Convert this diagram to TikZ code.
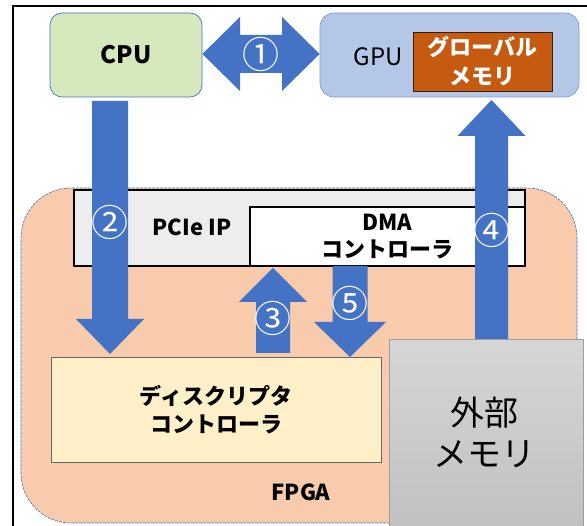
\documentclass[tikz,border=0pt]{standalone}
\usepackage{fontspec}
\setmainfont{Noto Sans CJK JP}
\definecolor{arrowblue}{RGB}{68,114,196}
\definecolor{cpugreen}{RGB}{213,233,189}
\definecolor{gpublue}{RGB}{180,199,231}
\definecolor{gmemorange}{RGB}{197,90,17}
\definecolor{fpgapeach}{RGB}{248,203,173}
\definecolor{pciegray}{RGB}{237,237,237}
\definecolor{descyellow}{RGB}{255,240,202}
\newcommand\fsz[2]{\fontsize{#1}{#2}\selectfont}
\newcommand\vblock[6]{%
  \fill[arrowblue] (#1-#5,#2) -- (#1-#5,#3) -- (#1-#6,#3) -- (#1,#4) -- (#1+#6,#3) -- (#1+#5,#3) -- (#1+#5,#2) -- cycle;}
\tikzset{
  box/.style={rectangle, inner sep=0pt, align=center},
  lbl/.style={inner sep=0pt, align=center, font=\bfseries\fsz{22}{28}},
  num/.style={inner sep=0pt, text=white, font=\fsz{37}{37}},
}
\begin{document}
\begin{tikzpicture}[x=1pt,y=-1pt]
\useasboundingbox (0,0) rectangle (587,526);
\fill[white] (0,0) rectangle (587,526);
% outer frame
\draw[line width=1.3pt] (13,526) -- (13,6) -- (587,6);
% CPU and GPU
\node[box, rounded corners=12pt, fill=cpugreen, draw=arrowblue, line width=0.7pt,
  minimum width=152pt, minimum height=84pt, font=\bfseries\fsz{24}{28}] (cpu) at (126,55) {CPU};
\node[box, rounded corners=14pt, fill=gpublue, draw=arrowblue!70, line width=0.7pt,
  minimum width=259pt, minimum height=84pt] (gpu) at (449.5,55) {};
\node[inner sep=0pt, font=\fsz{24}{28}] (gputext) at (378,57) {GPU};
\node[box, fill=gmemorange, draw=black!70!gmemorange, line width=0.8pt,
  minimum width=139pt, minimum height=59pt, text=white, font=\bfseries\fsz{22}{29}] (gmem) at (482.5,61.5) {グローバル\\メモリ};
% arrow 1
\fill[arrowblue] (cpu.east |- 0,54) -- (240,17) -- (240,35) -- (282,35) -- (282,17) -- (gpu.west |- 0,54)
  -- (282,91) -- (282,73) -- (240,73) -- (240,91) -- cycle;
\node[num] (n1) at (261,54) {①};
% FPGA
\node[box, rounded corners=50pt, fill=fpgapeach, draw=arrowblue, line width=0.6pt,
  dash pattern=on 3pt off 1pt, minimum width=556pt, minimum height=335pt] (fpga) at (299,355.5) {};
\node[lbl] (fpgatext) at (301,492) {FPGA};
% PCIe IP
\node[box, fill=pciegray, draw=black, line width=1.1pt, minimum width=451pt, minimum height=76pt] (pcie) at (299.5,228) {};
\node[lbl] (pcietext) at (192,227) {PCIe IP};
\node[box, fill=white, draw=black, line width=1.1pt, minimum width=275pt, minimum height=59pt,
  font=\bfseries\fsz{22}{27}] (dma) at (387.5,236.5) {DMA\\コントローラ};
% descriptor controller
\node[box, fill=descyellow, draw=black!60, line width=0.8pt, minimum width=330pt, minimum height=105pt,
  font=\bfseries\fsz{22}{28}] (desc) at (216,409.5) {ディスクリプタ\\コントローラ};
% arrows 2,3,5,4
\vblock{110}{101}{319}{354}{18}{34}
\vblock{273}{353}{302}{268}{17}{34}
\vblock{350}{266}{322}{357}{17.5}{36}
\vblock{491.5}{340}{136}{100}{16.5}{34}
\node[num] (n2) at (110,222) {②};
\node[num] (n3) at (273,318) {③};
\node[num] (n5) at (350,303) {⑤};
\node[num] (n4) at (491.5,230) {④};
% external memory
\node[box, top color=black!16, bottom color=black!25, draw=black!38, line width=1pt,
  minimum width=194pt, minimum height=200pt] (ext) at (486,440) {};
\node[inner sep=0pt, align=center, font=\fsz{34}{41}] (exttext) at (484,432) {外部\\メモリ};
\end{tikzpicture}
\end{document}
